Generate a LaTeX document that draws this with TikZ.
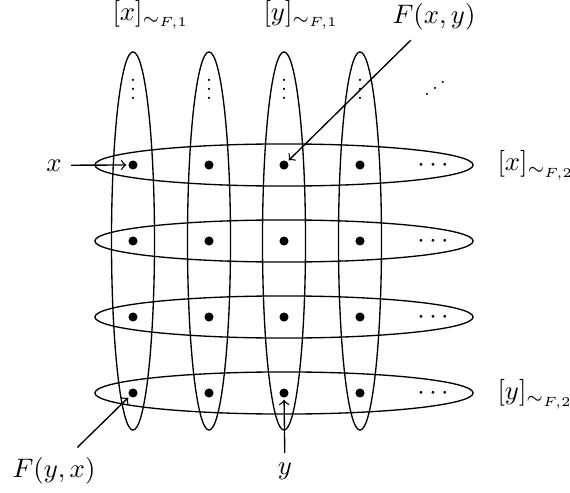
\documentclass[tikz,border=0pt]{standalone}
\usepackage{graphicx}
\begin{document}
\begin{tikzpicture}[x=0.0131579cm, y=-0.0131579cm,
  dotnode/.style={circle, fill=black, inner sep=0pt, minimum size=3.4pt},
  vell/.style={draw, line width=0.5pt},
  lab/.style={inner sep=0pt, anchor=base west},
  alab/.style={anchor=base},
  arr/.style={->, line width=0.5pt, shorten >=0.6pt}]
\path[use as bounding box] (0,0) rectangle (570,493);
% vertical ellipses
\foreach \cx in {133,209,284,360}
  \draw[vell] (\cx,241) ellipse [x radius=0.283cm, y radius=2.487cm];
% horizontal ellipses
\foreach \ry in {165,241,317,393}
  \draw[vell] (284,\ry) ellipse [x radius=2.487cm, y radius=0.277cm];
% dots
\foreach \cx [count=\j] in {133,209,284,360}
  \foreach \ry [count=\i] in {165,241,317,393}
    \node[dotnode] (d-\i-\j) at (\cx,\ry) {};
% vertical dots
\foreach \cx [count=\j] in {133,209,284,360}
  \node[anchor=base, inner sep=0pt] (vd-\j) at (\cx,99) {\scalebox{0.8}{$\vdots$}};
\node[anchor=base, inner sep=0pt] (ad) at (435,97.5) {\scalebox{0.75}{\reflectbox{$\ddots$}}};
% row dots
\foreach \ry [count=\i] in {165,241,317,393}
  \node[anchor=base, inner sep=0pt] (cd-\i) at (433,\ry+6.7) {$\cdots$};
% labels
\node[lab] (lx1) at (112,20) {$[x]_{\sim_{F,1}}$};
\node[lab] (ly1) at (263,20) {$[y]_{\sim_{F,1}}$};
\node[lab] (lx2) at (497,170.5) {$[x]_{\sim_{F,2}}$};
\node[lab] (ly2) at (497,399.5) {$[y]_{\sim_{F,2}}$};
\node[alab] (lxx) at (54,171) {$x$};
\node[alab] (lFxy) at (434,24) {$F(x,y)$};
\node[alab] (lFyx) at (54,477) {$F(y,x)$};
\node[alab] (lyy) at (285,474) {$y$};
% arrows
\draw[arr] (lxx) -- (d-1-1);
\draw[arr] (lFxy) -- (d-1-3);
\draw[arr] (lFyx) -- (d-4-1);
\draw[arr] (lyy) -- (d-4-3);
\end{tikzpicture}
\end{document}
